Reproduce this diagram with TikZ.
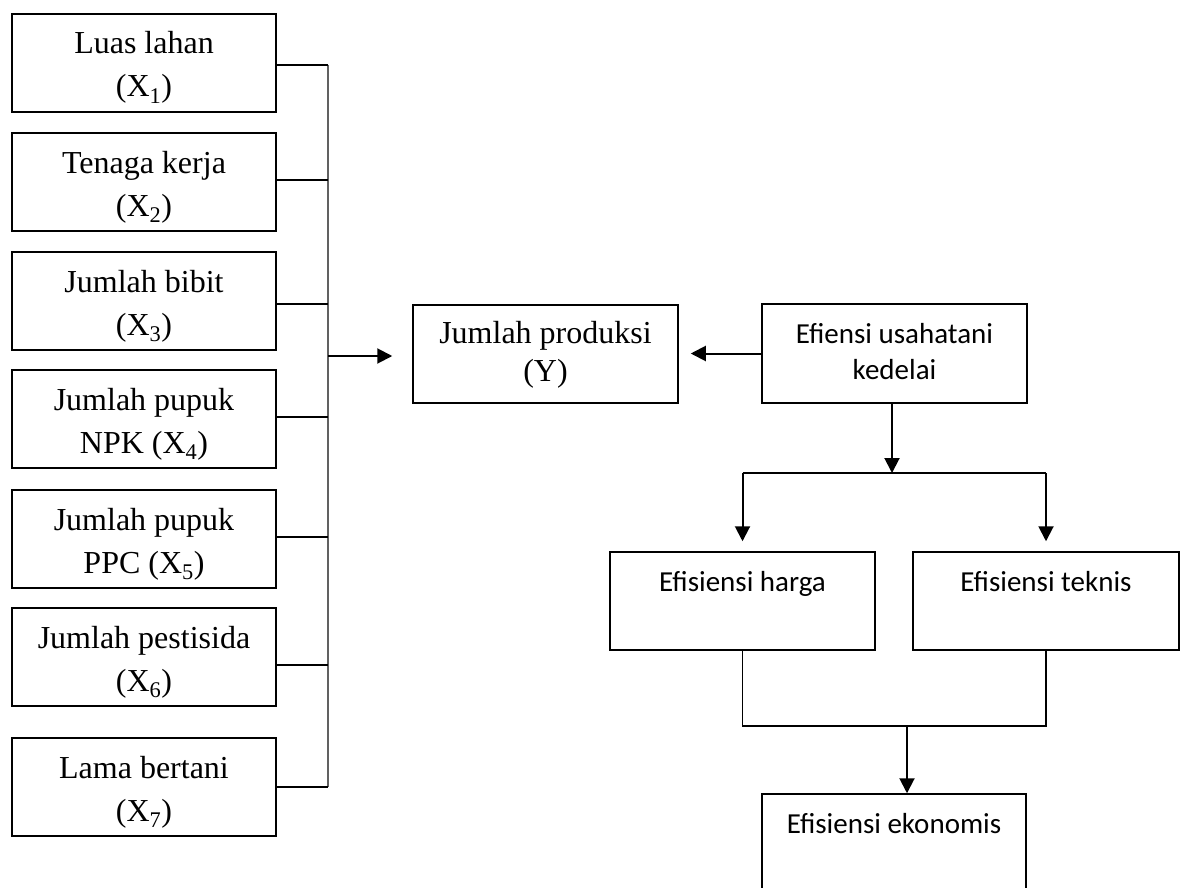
\documentclass[tikz,border=0pt]{standalone}
\usepackage{fontspec}
\setmainfont{Liberation Serif}
\newfontfamily\calibrifont{Carlito}
\usetikzlibrary{arrows.meta}
\newcommand{\twoline}[2]{\rule{0pt}{33pt}#1\\#2\rule[-8pt]{0pt}{8pt}}
\newcommand{\xsub}[1]{(X\textsubscript{#1})}
\begin{document}
\begin{tikzpicture}[x=1pt,y=-1pt,
  lbox/.style={draw, line width=1.5pt, minimum width=264pt, minimum height=98pt,
    inner sep=0pt, align=center, font=\fontsize{32}{43}\selectfont},
  cbox/.style={draw, line width=1.5pt, minimum width=265pt, minimum height=98pt,
    inner sep=0pt, align=center, font=\calibrifont\fontsize{29}{36}\selectfont},
  arr/.style={line width=2pt, -{Triangle[length=15pt,width=15pt]}},
  ln/.style={line width=1.5pt},
  busline/.style={line width=1.8pt, draw=black!62}]
\useasboundingbox (0,0) rectangle (1180,888);
\clip (0,0) rectangle (1180,888);

% left input boxes
\node[lbox] (b1) at (144,63)  {\twoline{Luas lahan}{\xsub{1}}};
\node[lbox] (b2) at (144,182) {\twoline{Tenaga kerja}{\xsub{2}}};
\node[lbox] (b3) at (144,301) {\twoline{Jumlah bibit}{\xsub{3}}};
\node[lbox] (b4) at (144,419) {\twoline{Jumlah pupuk}{NPK \xsub{4}}};
\node[lbox] (b5) at (144,539) {\twoline{Jumlah pupuk}{PPC \xsub{5}}};
\node[lbox] (b6) at (144,657) {\twoline{Jumlah pestisida}{\xsub{6}}};
\node[lbox] (b7) at (144,787) {\twoline{Lama bertani}{\xsub{7}}};

% central boxes
\node[lbox, minimum width=265pt, font=\fontsize{32}{38}\selectfont] (jp) at (545.5,354)
  {\rule{0pt}{24pt}Jumlah produksi\\(Y)\rule[-8pt]{0pt}{8pt}};
\node[cbox, minimum height=99pt] (ef) at (894.5,353.5)
  {\rule{0pt}{23pt}Efiensi usahatani\\kedelai\rule[-8pt]{0pt}{8pt}};
\node[cbox] (hg) at (742.5,601) {\rule[-44pt]{0pt}{68pt}Efisiensi harga};
\node[cbox, minimum width=266pt] (tk) at (1046,601) {\rule[-44pt]{0pt}{68pt}Efisiensi teknis};
\node[cbox, minimum width=264pt] (ek) at (894,843) {\rule[-44pt]{0pt}{68pt}Efisiensi ekonomis};

% bus coordinates
\coordinate (s1) at (328,65);
\coordinate (s2) at (328,180);
\coordinate (s3) at (328,304);
\coordinate (s4) at (328,417);
\coordinate (s5) at (328,537);
\coordinate (s6) at (328,665);
\coordinate (s7) at (328,787);
\coordinate (busj) at (328,356);

\draw[busline] (s1) -- (s7);
\foreach \i in {1,...,7} {\draw[ln] (b\i.east |- s\i) -- (s\i);}
\draw[arr, shorten >=20pt] (busj) -- (busj -| jp.west);

% right part
\draw[arr, shorten >=12pt] (ef.west) -- (ef.west -| jp.east);
\coordinate (split) at (892,473);
\draw[arr] (split |- ef.south) -- (split);
\draw[line width=2pt] (hg.north |- split) -- (tk.north |- split);
\draw[arr, shorten >=10pt] (hg.north |- split) -- (hg.north);
\draw[arr, shorten >=10pt] (tk.north |- split) -- (tk.north);

\coordinate (join) at (907,726);
\draw[ln] (hg.south) -- (hg.south |- join) -- (tk.south |- join) -- (tk.south);
\draw[arr] (join) -- (join |- ek.north);
\end{tikzpicture}
\end{document}
